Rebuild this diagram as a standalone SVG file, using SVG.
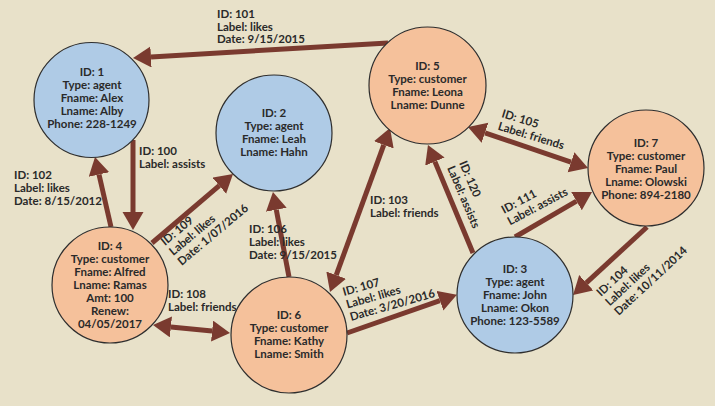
<svg xmlns="http://www.w3.org/2000/svg" width="715" height="406" viewBox="0 0 715 406">
<style>
.bg{fill:#e8e1c9}
.agent{fill:#afcbe6;stroke:#2e2e2e;stroke-width:1.2}
.cust{fill:#f5c19b;stroke:#2e2e2e;stroke-width:1.2}
.edge{stroke:#7a3a2f;stroke-width:5;fill:none}
text{font-family:Lato,"Liberation Sans",sans-serif;font-weight:700;font-size:11.5px;fill:#2a2a2a}
.nt{text-anchor:middle}
</style>
<defs>
<marker id="ah" markerUnits="userSpaceOnUse" markerWidth="19" markerHeight="22" refX="0" refY="10.5" orient="auto-start-reverse" viewBox="0 0 19 22">
<path d="M0,0 L18,10.5 L0,21 Z" fill="#7a3a2f"/>
</marker>
</defs>
<rect class="bg" x="0" y="0" width="715" height="406"/>
<g id="connectors">
<line id="e101" class="edge" x1="388" y1="43" x2="151" y2="56.9" marker-end="url(#ah)"/>
<line id="e100" class="edge" x1="133" y1="140" x2="133" y2="212" marker-end="url(#ah)"/>
<line id="e102" class="edge" x1="111" y1="227" x2="99" y2="174.5" marker-end="url(#ah)"/>
<line id="e109" class="edge" x1="152" y1="243" x2="219.3" y2="185.7" marker-end="url(#ah)"/>
<line id="e106" class="edge" x1="289" y1="277" x2="276.3" y2="209.7" marker-end="url(#ah)"/>
<line id="e108" class="edge" x1="170.9" y1="326.9" x2="212.1" y2="331.1" marker-start="url(#ah)" marker-end="url(#ah)"/>
<line id="e103" class="edge" x1="336.2" y1="275.1" x2="383.8" y2="144.9" marker-start="url(#ah)" marker-end="url(#ah)"/>
<line id="e107" class="edge" x1="347" y1="333" x2="439.9" y2="300.7" marker-end="url(#ah)"/>
<line id="e120" class="edge" x1="473" y1="253" x2="434.9" y2="161.6" marker-end="url(#ah)"/>
<line id="e105" class="edge" x1="485" y1="132.8" x2="571" y2="162.2" marker-start="url(#ah)" marker-end="url(#ah)"/>
<line id="e111" class="edge" x1="515" y1="237" x2="576.5" y2="201.1" marker-end="url(#ah)"/>
<line id="e104" class="edge" x1="647" y1="227" x2="586.3" y2="282.8" marker-end="url(#ah)"/>
<g id="edge-labels">
<text x="217" y="18">ID: 101</text>
<text x="217" y="30.5">Label: likes</text>
<text x="217" y="43">Date: 9/15/2015</text>
<text x="139" y="155">ID: 100</text>
<text x="139" y="168">Label: assists</text>
<text x="14" y="179">ID: 102</text>
<text x="14" y="192">Label: likes</text>
<text x="14" y="205">Date: 8/15/2012</text>
<g transform="translate(165,246) rotate(-40)">
<text x="0" y="0">ID: 109</text>
<text x="0" y="13">Label: likes</text>
<text x="0" y="26">Date: 1/07/2016</text>
</g>
<text x="249" y="233">ID: 106</text>
<text x="249" y="246">Label: likes</text>
<text x="249" y="259">Date: 9/15/2015</text>
<text x="168" y="298">ID: 108</text>
<text x="168" y="311">Label: friends</text>
<text x="370" y="204">ID: 103</text>
<text x="370" y="217">Label: friends</text>
<g transform="translate(344,296) rotate(-16)">
<text x="0" y="0">ID: 107</text>
<text x="0" y="13">Label: likes</text>
<text x="0" y="26">Date: 3/20/2016</text>
</g>
<g transform="translate(459,163) rotate(67)">
<text x="0" y="0">ID: 120</text>
<text x="0" y="13">Label: assists</text>
</g>
<g transform="translate(501,117) rotate(17)">
<text x="0" y="0">ID: 105</text>
<text x="0" y="13">Label: friends</text>
</g>
<g transform="translate(504,214) rotate(-28)">
<text x="0" y="0">ID: 111</text>
<text x="0" y="13">Label: assists</text>
</g>
<g transform="translate(601,297) rotate(-43)">
<text x="0" y="0">ID: 104</text>
<text x="0" y="13">Label: likes</text>
<text x="0" y="26">Date: 10/11/2014</text>
</g>
</g>
</g>
<g id="node1">
<circle class="agent" cx="91.5" cy="100" r="57.5"/>
<text class="nt" x="92" y="76">ID: 1</text>
<text class="nt" x="92" y="89">Type: agent</text>
<text class="nt" x="92" y="102">Fname: Alex</text>
<text class="nt" x="92" y="115">Lname: Alby</text>
<text class="nt" x="92" y="128">Phone: 228-1249</text>
</g>
<g id="node2">
<circle class="agent" cx="274" cy="133" r="58"/>
<text class="nt" x="274" y="117">ID: 2</text>
<text class="nt" x="274" y="130">Type: agent</text>
<text class="nt" x="274" y="143">Fname: Leah</text>
<text class="nt" x="274" y="156">Lname: Hahn</text>
</g>
<g id="node5">
<circle class="cust" cx="427.5" cy="85.5" r="58.5"/>
<text class="nt" x="427.5" y="70">ID: 5</text>
<text class="nt" x="427.5" y="83">Type: customer</text>
<text class="nt" x="427.5" y="96">Fname: Leona</text>
<text class="nt" x="427.5" y="109">Lname: Dunne</text>
</g>
<g id="node7">
<circle class="cust" cx="646" cy="168" r="58"/>
<text class="nt" x="646" y="146.5">ID: 7</text>
<text class="nt" x="646" y="159.5">Type: customer</text>
<text class="nt" x="646" y="172.5">Fname: Paul</text>
<text class="nt" x="646" y="185.5">Lname: Olowski</text>
<text class="nt" x="646" y="198.5">Phone: 894-2180</text>
</g>
<g id="node4">
<circle class="cust" cx="110" cy="285" r="58"/>
<text class="nt" x="110" y="250">ID: 4</text>
<text class="nt" x="110" y="263">Type: customer</text>
<text class="nt" x="110" y="276">Fname: Alfred</text>
<text class="nt" x="110" y="289">Lname: Ramas</text>
<text class="nt" x="110" y="302">Amt: 100</text>
<text class="nt" x="110" y="315">Renew:</text>
<text class="nt" x="110" y="328">04/05/2017</text>
</g>
<g id="node6">
<circle class="cust" cx="289" cy="335" r="58"/>
<text class="nt" x="289" y="319">ID: 6</text>
<text class="nt" x="289" y="332">Type: customer</text>
<text class="nt" x="289" y="345">Fname: Kathy</text>
<text class="nt" x="289" y="358">Lname: Smith</text>
</g>
<g id="node3">
<circle class="agent" cx="515" cy="295" r="58"/>
<text class="nt" x="515" y="273">ID: 3</text>
<text class="nt" x="515" y="286">Type: agent</text>
<text class="nt" x="515" y="299">Fname: John</text>
<text class="nt" x="515" y="312">Lname: Okon</text>
<text class="nt" x="515" y="325">Phone: 123-5589</text>
</g>
</svg>
